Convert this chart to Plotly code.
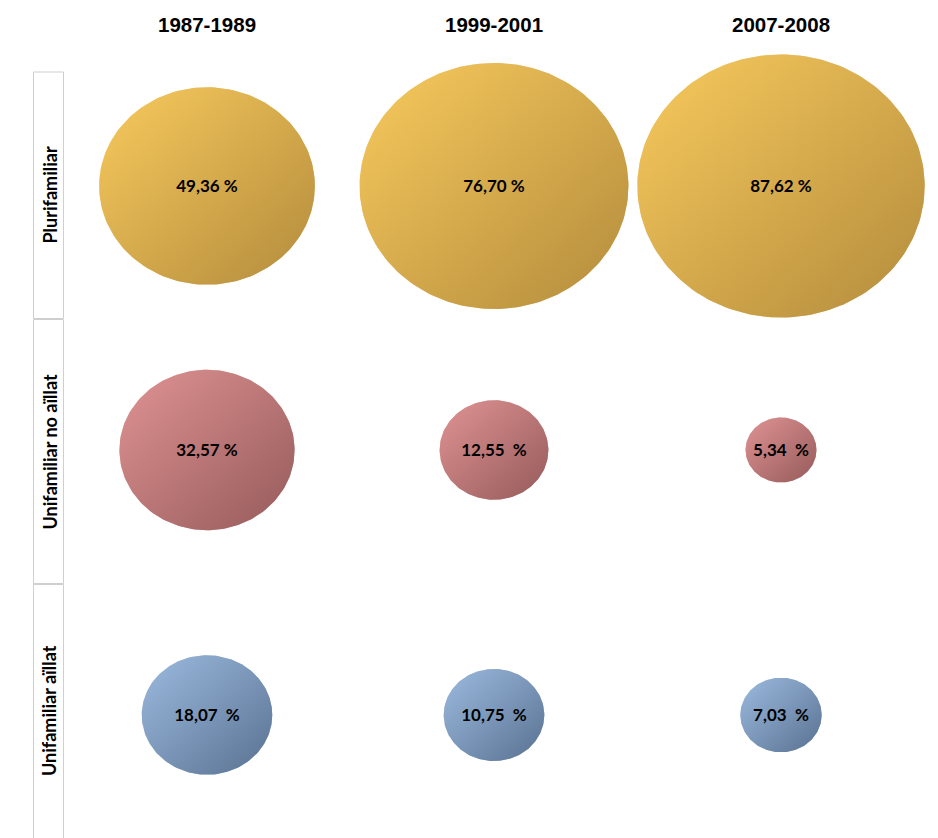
import numpy as np
import plotly.graph_objects as go

# ---------------- data ----------------
periods = ["1987-1989", "1999-2001", "2007-2008"]
types = ["Plurifamiliar", "Unifamiliar no aïllat", "Unifamiliar aïllat"]
plurifamiliar = [49.36, 76.70, 87.62]
unifamiliar_no_aillat = [32.57, 12.55, 5.34]
unifamiliar_aillat = [18.07, 10.75, 7.03]
labels_plurifamiliar = ["49,36 %", "76,70 %", "87,62 %"]
labels_unifamiliar_no_aillat = ["32,57 %", "12,55  %", "5,34  %"]
labels_unifamiliar_aillat = ["18,07  %", "10,75  %", "7,03  %"]

series = [plurifamiliar, unifamiliar_no_aillat, unifamiliar_aillat]
series_labels = [labels_plurifamiliar, labels_unifamiliar_no_aillat, labels_unifamiliar_aillat]

# ---------------- layout / style ----------------
W, H = 938, 838
OFF = 8  # page body margin
col_x = [207, 494, 781]
row_y = [186, 450, 715]
TEXT_DY = 2
KX, KY = 15.35, 14.05  # radius per sqrt(percent)
colors = [("#F8CA5D", "#B38B3C"), ("#E09393", "#955A5A"), ("#9CBBDF", "#597191")]


def rgba(hexc, a):
    h = hexc.lstrip("#")
    r, g, b = int(h[0:2], 16), int(h[2:4], 16), int(h[4:6], 16)
    return f"rgba({r},{g},{b},{a})"


fig = go.Figure()
theta = np.linspace(0, 2 * np.pi, 181)

for ri, vals in enumerate(series):
    light, dark = colors[ri]
    for ci, v in enumerate(vals):
        cx, cy = col_x[ci], row_y[ri]
        rx, ry = KX * np.sqrt(v), KY * np.sqrt(v)
        xs = cx + rx * np.cos(theta)
        ys = cy + ry * np.sin(theta)
        fig.add_trace(go.Scatter(
            x=xs, y=ys, mode="lines", fill="toself",
            line=dict(width=0, color="rgba(0,0,0,0)"),
            fillgradient=dict(type="horizontal",
                              colorscale=[[0, light], [1, dark]],
                              start=cx - rx, stop=cx + rx),
            hoverinfo="skip", showlegend=False))
        fig.add_trace(go.Scatter(
            x=xs, y=ys, mode="lines", fill="toself",
            line=dict(width=0, color="rgba(0,0,0,0)"),
            fillgradient=dict(type="vertical",
                              colorscale=[[0, rgba(light, 0.5)], [1, rgba(dark, 0.5)]],
                              start=cy - ry, stop=cy + ry),
            hoverinfo="skip", showlegend=False))
    fig.add_trace(go.Scatter(
        x=col_x, y=[row_y[ri] + TEXT_DY] * 3, mode="text",
        text=[t.replace("  ", " \u00a0") for t in series_labels[ri]],
        textfont=dict(family="Lato", size=17, color="#000000", weight="bold"),
        hoverinfo="skip", showlegend=False))

# column headers
for ci, p in enumerate(periods):
    fig.add_annotation(x=col_x[ci], y=24, text=f"<b>{p}</b>", showarrow=False,
                       font=dict(family="Liberation Sans", size=20.5, color="#000000"),
                       xanchor="center", yanchor="middle")

# row label boxes
box_edges = [72, 319, 584, 846]
for ri, t in enumerate(types):
    fig.add_shape(type="rect", x0=33.5, x1=63.5, y0=box_edges[ri] + (0.5 if ri else 0),
                  y1=box_edges[ri + 1] - 0.5,
                  line=dict(color="#CFCFCF", width=1), fillcolor="rgba(0,0,0,0)")
    fig.add_annotation(x=49, y=(box_edges[ri] + min(box_edges[ri + 1], 838)) / 2,
                       text=f"<b>{t}</b>", showarrow=False, textangle=-90,
                       font=dict(family="Lato", size=18, color="#000000"),
                       xanchor="center", yanchor="middle")

fig.update_layout(
    width=W, height=H, margin=dict(l=0, r=0, t=0, b=0),
    paper_bgcolor="white", plot_bgcolor="white",
    xaxis=dict(range=[OFF, OFF + W], visible=False, fixedrange=True),
    yaxis=dict(range=[OFF + H, OFF], visible=False, fixedrange=True),
)

fig.write_html("out.html")
